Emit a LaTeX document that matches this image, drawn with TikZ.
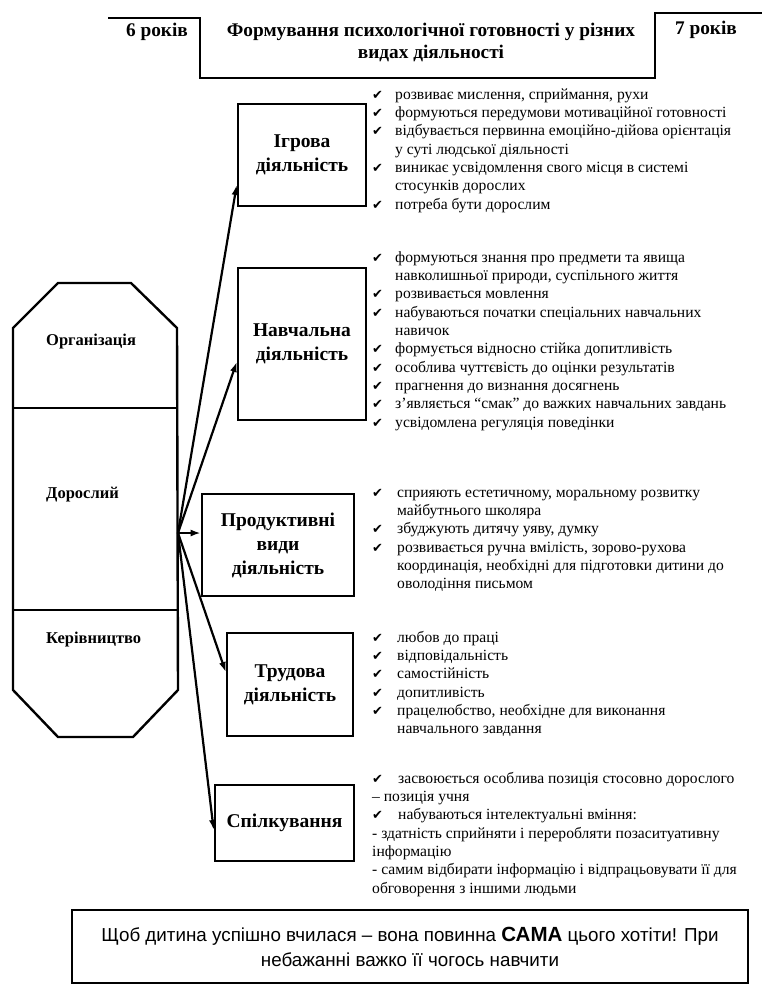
\documentclass[tikz,border=0pt]{standalone}
\usepackage{fontspec}
\setmainfont{Liberation Serif}
\setsansfont{Liberation Sans}
\newfontfamily\symf{DejaVu Sans}
\usetikzlibrary{arrows.meta,calc}
\newcommand{\ckm}{{\symf\fontsize{13}{13}\selectfont ✔}}
\tikzset{
  lbox/.style={draw, line width=2.6pt, inner sep=0pt, align=center,
    font=\fontsize{19.5}{24}\selectfont\bfseries},
  lst/.style={anchor=base west, inner sep=0pt, font=\fontsize{15.6}{18.35}\selectfont},
  arr/.style={line width=2.2pt, -{Latex[length=10pt,width=7pt]}},
  hdr/.style={inner sep=0pt, anchor=base, font=\fontsize{19.3}{22}\selectfont\bfseries, align=center},
  olbl/.style={anchor=base west, inner sep=0pt, font=\fontsize{16.5}{19}\selectfont\bfseries},
  thick line/.style={line width=2.6pt},
}
\begin{document}
\begin{tikzpicture}[x=1pt,y=-1pt]
\useasboundingbox (0,0) rectangle (769,1002);
\fill[white] (0,0) rectangle (769,1002);

% header
\draw[thick line] (108,18) -- (200,18) -- (200,78) -- (655,78) -- (655,13) -- (762,13);
\node[hdr] (age6) at (157,36) {6 років};
\node[hdr] (age7) at (706,34) {7 років};
\node[hdr] (title) at (431,58) {Формування психологічної готовності у різних\\видах діяльності};

% left octagon
\draw[line width=2.4pt] (58,283) -- (131,283) -- (177,328) -- (178,690) -- (133,737)
  -- (58,737) -- (13,690) -- (13,328) -- cycle;
\draw[line width=2.4pt] (13,408) -- (177,408);
\draw[line width=2.4pt] (13,610) -- (178,610);
\node[olbl] (org) at (46,345) {Організація};
\node[olbl] (dor) at (46,498) {Дорослий};
\node[olbl] (ker) at (46,643) {Керівництво};
\coordinate (src) at (178,533);

% activity boxes
\node[lbox, minimum width=128pt, minimum height=102pt] (ig) at (302,155) {Ігрова\\діяльність};
\node[lbox, minimum width=128pt, minimum height=152pt] (nav) at (302,344) {Навчальна\\діяльність};
\node[lbox, minimum width=152pt, minimum height=102pt] (prod) at (278,545) {Продуктивні\\види\\діяльність};
\node[lbox, minimum width=126pt, minimum height=103pt] (trud) at (290,684.5) {Трудова\\діяльність};
\node[lbox, minimum width=139pt, minimum height=76pt] (spil) at (284.5,823) {Спілкування};

% arrows
\draw[arr] (src) -- ($(ig.west)+(0,30)$);
\draw[arr] (src) -- ($(nav.west)+(0,18)$);
\draw[arr] (src) -- ($(prod.west)+(0,-12)$);
\draw[arr] (src) -- ($(trud.west)+(0,-12.5)$);
\draw[arr] (src) -- ($(spil.west)+(0,7)$);

% lists
\node[lst] (l1) at (372,99) {\begin{tabular}[t]{@{}p{23pt}@{}l@{}}
\ckm & розвиває мислення, сприймання, рухи\\
\ckm & формуються передумови мотиваційної готовності\\
\ckm & відбувається первинна емоційно-дійова орієнтація\\
 & у суті людської діяльності\\
\ckm & виникає усвідомлення свого місця в системі\\
 & стосунків дорослих\\
\ckm & потреба бути дорослим
\end{tabular}};

\node[lst] (l2) at (372,262) {\begin{tabular}[t]{@{}p{23pt}@{}l@{}}
\ckm & формуються знання про предмети та явища\\
 & навколишньої природи, суспільного життя\\
\ckm & розвивається мовлення\\
\ckm & набуваються початки спеціальних навчальних\\
 & навичок\\
\ckm & формується відносно стійка допитливість\\
\ckm & особлива чуттєвість до оцінки результатів\\
\ckm & прагнення до визнання досягнень\\
\ckm & з’являється “смак” до важких навчальних завдань\\
\ckm & усвідомлена регуляція поведінки
\end{tabular}};

\node[lst] (l3) at (372,497) {\begin{tabular}[t]{@{}p{25pt}@{}l@{}}
\ckm & сприяють естетичному, моральному розвитку\\
 & майбутнього школяра\\
\ckm & збуджують дитячу уяву, думку\\
\ckm & розвивається ручна вмілість, зорово-рухова\\
 & координація, необхідні для підготовки дитини до\\
 & оволодіння письмом
\end{tabular}};

\node[lst] (l4) at (372,642) {\begin{tabular}[t]{@{}p{25pt}@{}l@{}}
\ckm & любов до праці\\
\ckm & відповідальність\\
\ckm & самостійність\\
\ckm & допитливість\\
\ckm & працелюбство, необхідне для виконання\\
 & навчального завдання
\end{tabular}};

\node[lst] (l5) at (372,783) {\begin{tabular}[t]{@{}p{26pt}@{}l@{}}
\ckm & засвоюється особлива позиція стосовно дорослого\\
\multicolumn{2}{@{}l@{}}{– позиція учня}\\
\ckm & набуваються інтелектуальні вміння:\\
\multicolumn{2}{@{}l@{}}{- здатність сприйняти і переробляти позаситуативну}\\
\multicolumn{2}{@{}l@{}}{інформацію}\\
\multicolumn{2}{@{}l@{}}{- самим відбирати інформацію і відпрацьовувати її для}\\
\multicolumn{2}{@{}l@{}}{обговорення з іншими людьми}
\end{tabular}};

% bottom box
\node[draw, line width=2.6pt, minimum width=676pt, minimum height=73pt, inner sep=0pt,
  align=center, font=\sffamily\fontsize{18.8}{25}\selectfont] (note) at (410,946.5)
  {Щоб дитина успішно вчилася – вона повинна {\bfseries\fontsize{20.5}{25}\selectfont САМА} цього хотіти! При\\небажанні важко її чогось навчити};
\end{tikzpicture}
\end{document}
